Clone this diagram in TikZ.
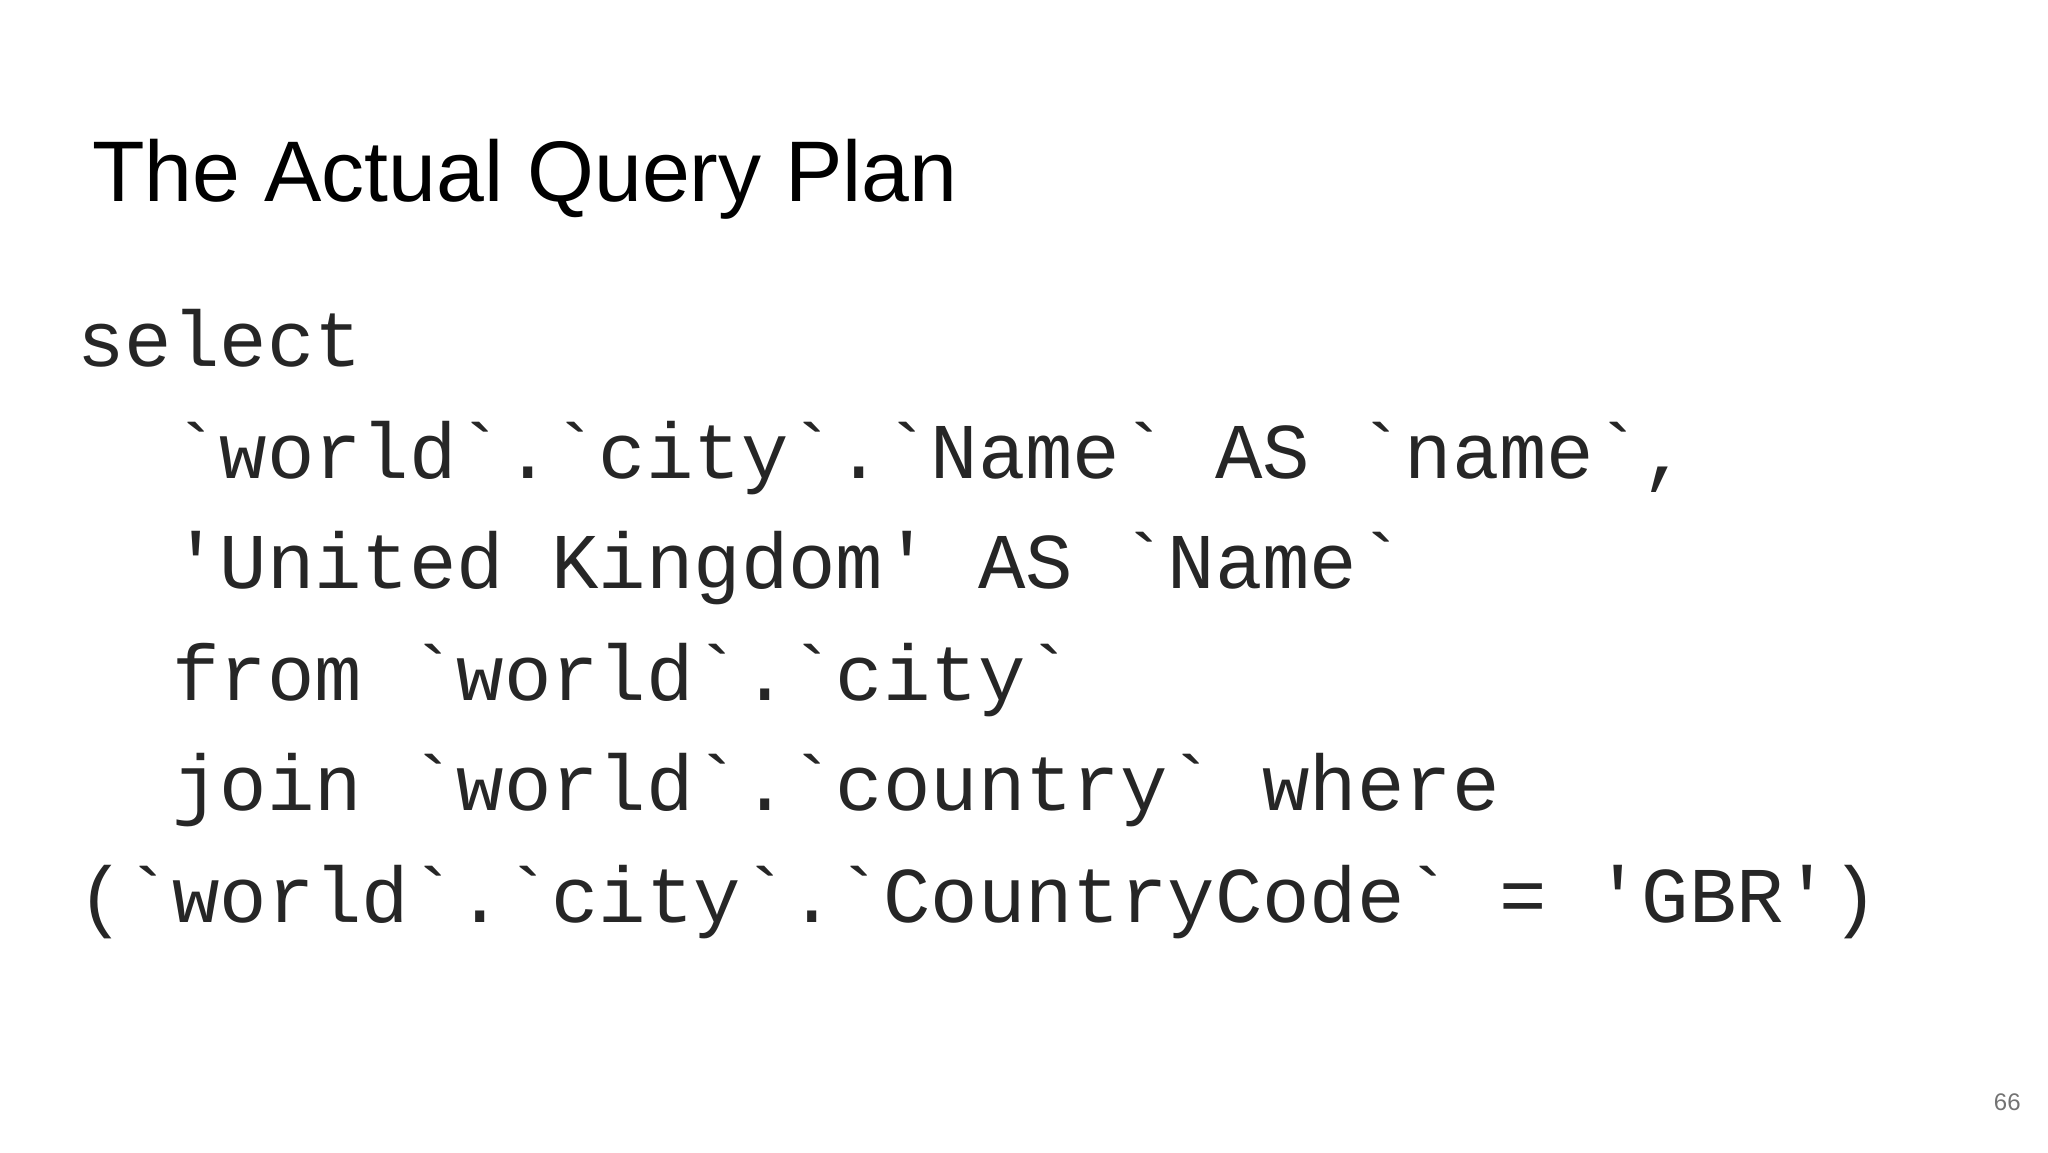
\documentclass[tikz,border=0pt]{standalone}
\usepackage{fontspec}
\setmainfont{Liberation Sans}
\newfontfamily\codefont{Liberation Mono}
\begin{document}
\begin{tikzpicture}[x=0.5pt,y=-0.5pt,
  codeline/.style={anchor=base west,inner sep=0pt,font=\codefont\fontsize{39.5pt}{44pt}\selectfont,text=black!85}]
\useasboundingbox (0,0) rectangle (2048,1152);
\node[anchor=base west,inner sep=0pt,font=\fontsize{43pt}{48pt}\selectfont] (title) at (92,201) {The Actual Query Plan};
\node[codeline] (l1) at (77,366) {select};
\node[codeline] (l2) at (77,478) {\ \ `world`.`city`.`Name` AS `name`,};
\node[codeline] (l3) at (77,588) {\ \ 'United Kingdom' AS `Name`};
\node[codeline] (l4) at (77,700) {\ \ from `world`.`city`};
\node[codeline] (l5) at (77,810) {\ \ join `world`.`country` where};
\node[codeline] (l6) at (77,922) {(`world`.`city`.`CountryCode` = 'GBR')};
\node[anchor=base east,inner sep=0pt,font=\fontsize{12pt}{14pt}\selectfont,text=black!55] (pg) at (2021,1110) {66};
\end{tikzpicture}
\end{document}
